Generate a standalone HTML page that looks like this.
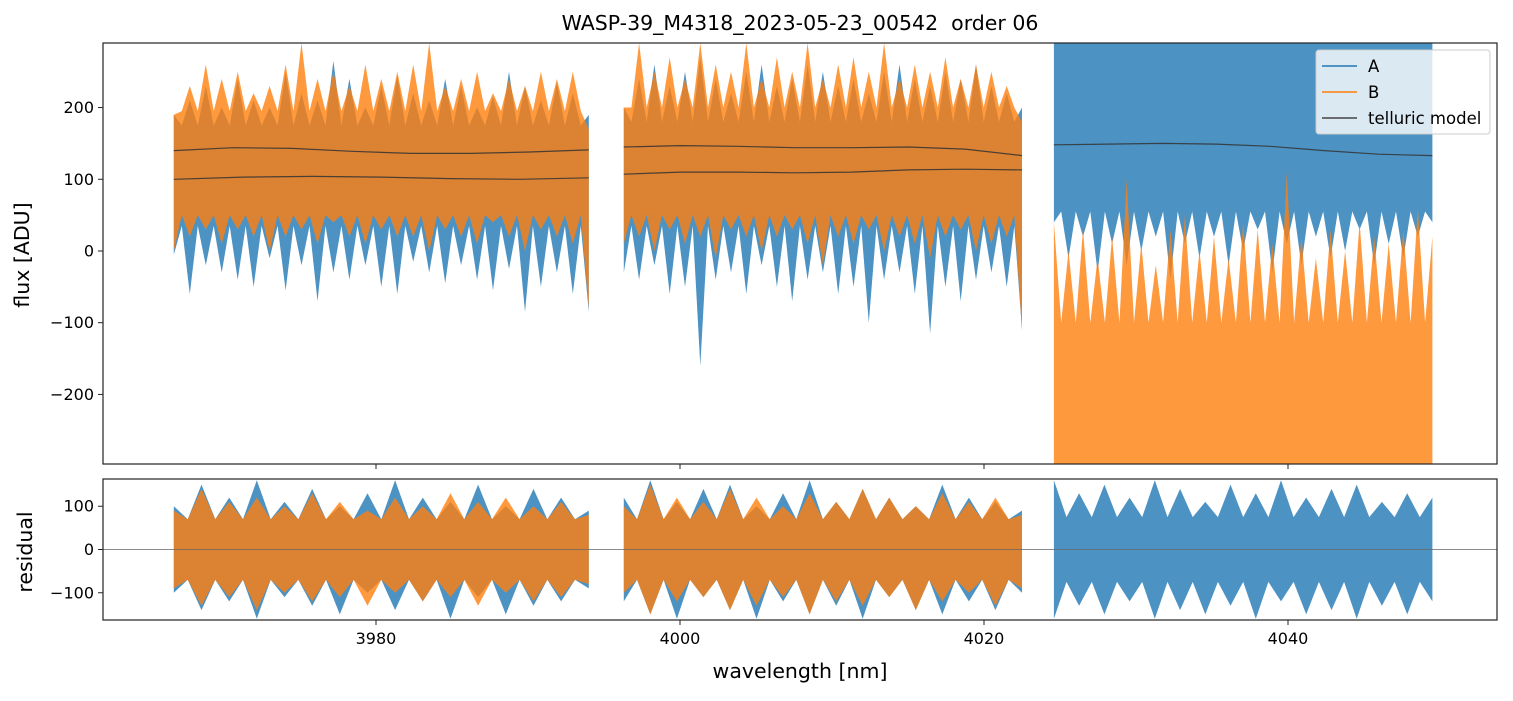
<!DOCTYPE html>
<html><head><meta charset="utf-8"><style>
body{margin:0;background:#fff;font-family:"Liberation Sans","DejaVu Sans",sans-serif}
svg text{font-family:"DejaVu Sans","Liberation Sans",sans-serif}
</style></head><body>
<svg id="c" width="1513" height="696" xmlns="http://www.w3.org/2000/svg">
<text x="800" y="30" font-size="20.5" text-anchor="middle" style="white-space:pre">WASP-39_M4318_2023-05-23_00542  order 06</text>
<defs>
<clipPath id="ct"><rect x="103" y="43" width="1394" height="421"/></clipPath>
<clipPath id="cb"><rect x="103" y="479" width="1394" height="141"/></clipPath>
</defs>
<g id="gtop" clip-path="url(#ct)"></g>
<g id="gbot" clip-path="url(#cb)"></g>
<g id="axes"></g>
<g>
<rect x="1316" y="50" width="174" height="84" rx="3" fill="#fff" fill-opacity="0.8" stroke="#ccc"/>
<line x1="1322" y1="66" x2="1357" y2="66" stroke="#1f77b4" stroke-width="1.5"/>
<text x="1368" y="72" font-size="16.5">A</text>
<line x1="1322" y1="92" x2="1357" y2="92" stroke="#ff7f0e" stroke-width="1.5"/>
<text x="1368" y="98" font-size="16.5">B</text>
<line x1="1322" y1="118" x2="1357" y2="118" stroke="#444" stroke-width="1.5"/>
<text x="1368" y="124" font-size="16.5">telluric model</text>
</g>
<text x="800" y="678" font-size="20.5" text-anchor="middle">wavelength [nm]</text>
<text transform="translate(29,255) rotate(-90)" font-size="20.5" text-anchor="middle">flux [ADU]</text>
<text transform="translate(32,552) rotate(-90)" font-size="20.5" text-anchor="middle">residual</text>
</svg>
<script>
const segStart=[3966.7,3996.3,4024.6];
const segEnd=[3994.0,4022.5,4049.5];
const aHi=[
[190,210,230,200,240,210,200,250,220,210,265,240,200,230,245,220,210,240,230,200,215,250,230,210,235,220,190],
[200,240,260,230,250,270,240,220,250,260,230,240,260,250,230,240,220,250,260,240,230,250,240,260,230,220,200],
[290,290,290,290,290,290,290,290,290,290,290,290,290,290,290,290,290,290,290,290,290,290,290,290,290,290,290]];
const aLo=[
[-5,-60,-20,-30,-40,-50,-10,-55,-20,-70,-30,-40,-20,-50,-60,-15,-30,-45,-20,-40,-55,-25,-85,-50,-30,-60,-85],
[-30,-40,-20,-60,-50,-160,-40,-30,-60,-20,-50,-70,-40,-30,-60,-50,-100,-40,-30,-60,-115,-50,-70,-40,-30,-50,-110],
[40,-10,20,-30,10,-20,0,20,-40,10,-10,20,-20,0,30,-30,10,-20,20,-10,0,30,-20,10,-10,20,40]];
const aCoreHi=[[175,175,175],[180,180,180],[290,290,290]];
const aCoreLo=[[35,35,35],[35,35,35],[55,55,55]];
const bHi=[
[190,230,260,240,250,220,230,260,290,240,250,230,260,240,250,260,290,230,240,250,220,240,230,250,240,250,170],
[200,290,250,270,240,290,260,250,290,240,270,250,290,240,260,270,250,290,240,260,250,270,240,260,250,230,180],
[40,0,30,-10,20,100,10,-20,30,50,0,20,-10,40,30,10,110,20,-10,30,0,40,20,10,30,60,20]];
const bLo=[
[0,20,30,10,30,20,0,20,30,10,40,20,10,30,20,20,0,30,20,10,40,20,0,30,20,10,-80],
[10,20,0,30,10,20,-10,30,20,0,20,30,10,-20,20,10,30,0,20,10,-10,20,30,0,10,20,-110],
[-297,-297,-297,-297,-297,-297,-297,-297,-297,-297,-297,-297,-297,-297,-297,-297,-297,-297,-297,-297,-297,-297,-297,-297,-297,-297,-297]];
const bCoreHi=[[195,195,195],[200,200,200],[-100,-100,-100]];
const bCoreLo=[[50,50,50],[50,50,50],[-297,-297,-297]];
const tellA=[[100,103,104,103,101,100,102],[107,110,110,109,110,113,114,113],[148,149,150,149,146,140,135,133]];
const tellB=[[140,144,143,139,136,136,138,141],[145,147,146,144,144,145,142,133],[]];
const rAHi=[[100,150,120,160,110,140,100,130,160,120,110,150,100,140,120,90],[120,160,110,140,150,100,130,160,110,140,120,100,150,120,110,90],[160,130,150,120,160,140,110,150,130,160,120,140,150,110,130,120]];
const rALo=[[-100,-140,-120,-160,-110,-130,-150,-100,-140,-120,-160,-110,-150,-130,-120,-90],[-120,-150,-160,-110,-140,-160,-120,-150,-130,-160,-110,-140,-150,-120,-140,-100],[-160,-130,-150,-120,-160,-140,-150,-130,-160,-120,-150,-140,-160,-130,-150,-120]];
const rBHi=[[90,140,110,120,100,130,110,90,120,100,130,110,120,100,110,80],[100,150,120,110,140,120,100,130,110,140,120,100,130,110,120,80],[]];
const rBLo=[[-90,-130,-110,-140,-100,-120,-110,-130,-100,-120,-110,-130,-100,-120,-110,-80],[-100,-150,-120,-110,-140,-130,-110,-150,-120,-130,-110,-140,-120,-100,-130,-90],[]];
const rCore=[70,70,75];
const xTicks=[3980,4000,4020,4040];
const yTicksTop=[-200,-100,0,100,200];
const yTicksBot=[-100,0,100];

const NS="http://www.w3.org/2000/svg";
const X0=103,X1=1497,W0=3962.04,W1=4053.75;
const xs=w=>X0+(w-W0)/(W1-W0)*(X1-X0);
const yt=v=>43+(290-v)/(290+297)*421;
const yb=v=>479+(163-v)/326*141;
function mk(p,tag,at){const e=document.createElementNS(NS,tag);for(const k in at)e.setAttribute(k,at[k]);p.appendChild(e);return e;}
function interp(arr,f){if(arr.length===1)return arr[0];const t=f*(arr.length-1),i=Math.min(Math.floor(t),arr.length-2);return arr[i]+(arr[i+1]-arr[i])*(t-i);}
function band(g,s,hi,lo,cHi,cLo,ys,col,op,name){
  const n=hi.length,w0=segStart[s],w1=segEnd[s];const tp=[],bt=[];
  for(let i=0;i<n;i++){const f=i/(n-1);const w=w0+(w1-w0)*f;
    tp.push([xs(w),ys(hi[i])]);bt.push([xs(w),ys(lo[i])]);
    if(i<n-1){const fm=(i+0.5)/(n-1),wm=w0+(w1-w0)*fm;
      tp.push([xs(wm),ys(interp(cHi,fm))]);bt.push([xs(wm),ys(interp(cLo,fm))]);}}
  const pts=tp.concat(bt.reverse()).map(p=>p[0].toFixed(1)+','+p[1].toFixed(1)).join(' ');
  const e=mk(g,'polygon',{points:pts,fill:col,'fill-opacity':op});
  
  
}
function tell(g,s,arr,name){if(!arr.length)return;const n=arr.length;
  const pts=arr.map((v,i)=>{const w=segStart[s]+(segEnd[s]-segStart[s])*i/(n-1);return xs(w).toFixed(1)+','+yt(v).toFixed(1);}).join(' ');
  const e=mk(g,'polyline',{points:pts,fill:'none',stroke:'#333','stroke-width':1.2,'stroke-opacity':0.85});
  
  }
const gTop=document.getElementById('gtop'),gBot=document.getElementById('gbot'),gAx=document.getElementById('axes');
for(let s=0;s<3;s++){
  band(gTop,s,aHi[s],aLo[s],aCoreHi[s],aCoreLo[s],yt,'#1f77b4',0.8,'series-a-seg'+(s+1));
  band(gTop,s,bHi[s],bLo[s],bCoreHi[s],bCoreLo[s],yt,'#ff7f0e',0.8,'series-b-seg'+(s+1));
  tell(gTop,s,tellA[s],'telluric-a-seg'+(s+1));
  tell(gTop,s,tellB[s],'telluric-b-seg'+(s+1));
  const rc=[rCore[s]],rcn=[-rCore[s]];
  band(gBot,s,rAHi[s],rALo[s],rc,rcn,yb,'#1f77b4',0.8,'residual-a-seg'+(s+1));
  if(rBHi[s].length)band(gBot,s,rBHi[s],rBLo[s],rc,rcn,yb,'#ff7f0e',0.8,'residual-b-seg'+(s+1));
}
const zl=mk(gBot,'line',{x1:X0,x2:X1,y1:yb(0),y2:yb(0),stroke:'#666','stroke-width':0.8});


const f1=mk(gAx,'rect',{x:X0,y:43,width:X1-X0,height:421,fill:'none',stroke:'#222','stroke-width':1.2});


const f2=mk(gAx,'rect',{x:X0,y:479,width:X1-X0,height:141,fill:'none',stroke:'#222','stroke-width':1.2});


xTicks.forEach(t=>{const x=xs(t);
  mk(gAx,'line',{x1:x,x2:x,y1:464,y2:469,stroke:'#222'});
  mk(gAx,'line',{x1:x,x2:x,y1:620,y2:625,stroke:'#222'});
  const tx=mk(gAx,'text',{x:x,y:644,'font-size':16,'text-anchor':'middle'});tx.textContent=t;
  
  });
yTicksTop.forEach(t=>{const y=yt(t);
  mk(gAx,'line',{x1:X0-5,x2:X0,y1:y,y2:y,stroke:'#222'});
  const tx=mk(gAx,'text',{x:X0-9,y:y+5.5,'font-size':16,'text-anchor':'end'});tx.textContent=t<0?'\u2212'+(-t):t;
  
  });
yTicksBot.forEach(t=>{const y=yb(t);
  mk(gAx,'line',{x1:X0-5,x2:X0,y1:y,y2:y,stroke:'#222'});
  const tx=mk(gAx,'text',{x:X0-9,y:y+5.5,'font-size':16,'text-anchor':'end'});tx.textContent=t<0?'\u2212'+(-t):t;
  
  });
</script>
</body></html>
